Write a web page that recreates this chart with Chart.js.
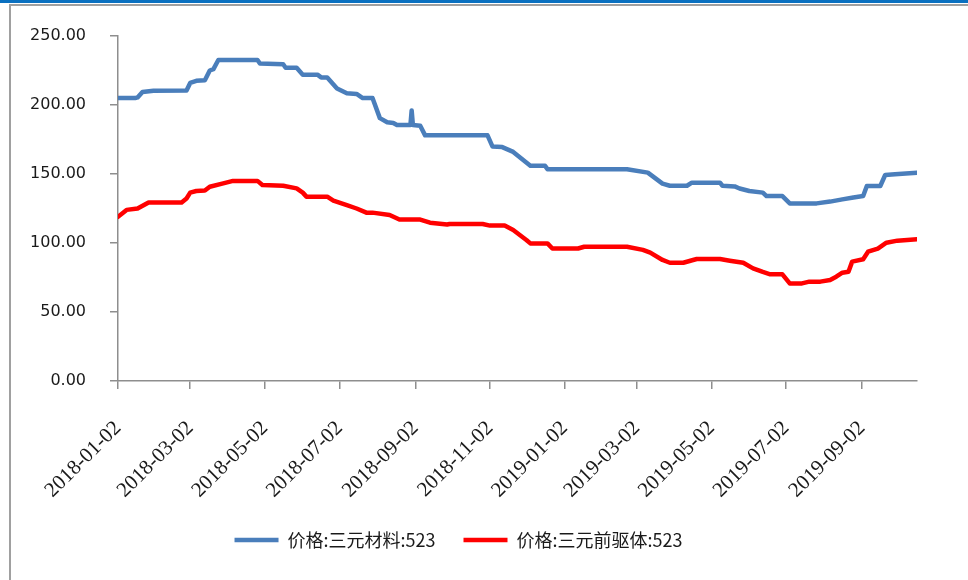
<!DOCTYPE html>
<html>
<head>
<meta charset="utf-8">
<script src="https://cdn.jsdelivr.net/npm/chart.js@4.4.0/dist/chart.umd.min.js"></script>
<style>
  html, body { margin: 0; padding: 0; background: #fff; }
  #wrap { position: relative; width: 968px; height: 580px; overflow: hidden; }
  #topbar { position: absolute; left: 0; top: 0; width: 968px; height: 3px; background: #0a70c0; }
  #frame { position: absolute; left: 9px; top: 4px; width: 959px; height: 576px;
           border-left: 2px solid #a0a0a0; border-top: 2px solid #a0a0a0; box-sizing: border-box; }
  canvas { position: absolute; left: 0; top: 0; }
</style>
</head>
<body>
<div id="wrap">
  <canvas id="myChart" width="968" height="580"></canvas>
  <div id="topbar"></div>
  <div id="frame"></div>
</div>
<script>
// 价格:三元材料:523
const blueDates = ['2018-01-02','2018-01-16','2018-01-18','2018-01-22','2018-01-31','2018-02-27','2018-03-02','2018-03-07','2018-03-14','2018-03-18','2018-03-21','2018-03-25','2018-04-26','2018-04-28','2018-05-17','2018-05-19','2018-05-28','2018-06-02','2018-06-14','2018-06-17','2018-06-22','2018-06-30','2018-07-08','2018-07-16','2018-07-21','2018-07-29','2018-08-04','2018-08-10','2018-08-15','2018-08-18','2018-08-29','2018-08-30','2018-08-31','2018-09-06','2018-09-10','2018-10-31','2018-11-04','2018-11-12','2018-11-21','2018-12-05','2018-12-17','2018-12-19','2019-02-22','2019-03-11','2019-03-23','2019-03-29','2019-04-12','2019-04-16','2019-05-09','2019-05-11','2019-05-21','2019-05-25','2019-06-02','2019-06-13','2019-06-16','2019-06-29','2019-07-05','2019-07-27','2019-08-07','2019-08-17','2019-08-26','2019-09-03','2019-09-06','2019-09-17','2019-09-21','2019-09-29','2019-10-17'];
const blueValues = [205,205,205.5,209.5,210.4,210.5,216,217.5,218,225,226,232.6,232.6,230,229.5,227,227,222,222,220,220,212,208.5,208,205,205,190.5,187.5,187,185.5,185.5,196,185.5,185,178,178,170,169.5,166,156,156,153.5,153.5,151,143,141.5,141.5,143.7,143.7,141.5,141,139.5,137.7,136.5,134,134,128.7,128.7,130,131.6,133,134,141.3,141.3,149.3,149.8,151];

// 价格:三元前驱体:523
const redDates = ['2018-01-02','2018-01-09','2018-01-18','2018-01-27','2018-02-23','2018-02-27','2018-03-02','2018-03-07','2018-03-14','2018-03-18','2018-03-29','2018-04-06','2018-04-26','2018-04-30','2018-05-17','2018-05-28','2018-06-02','2018-06-05','2018-06-22','2018-06-27','2018-07-08','2018-07-16','2018-07-24','2018-07-29','2018-08-12','2018-08-20','2018-09-06','2018-09-14','2018-09-28','2018-09-30','2018-10-27','2018-11-02','2018-11-14','2018-11-21','2018-12-02','2018-12-05','2018-12-19','2018-12-23','2019-01-13','2019-01-18','2019-02-22','2019-03-07','2019-03-13','2019-03-23','2019-03-29','2019-04-09','2019-04-17','2019-04-20','2019-05-09','2019-05-17','2019-05-28','2019-06-05','2019-06-13','2019-06-19','2019-06-29','2019-07-05','2019-07-15','2019-07-21','2019-07-30','2019-08-07','2019-08-12','2019-08-17','2019-08-22','2019-08-25','2019-09-03','2019-09-07','2019-09-15','2019-09-22','2019-10-01','2019-10-17'];
const redValues = [119,124,125,129.4,129.4,132.3,136.5,137.7,138,140.8,143.2,145,145,142,141.5,139.6,136.5,133.6,133.6,130.7,127.5,125,122,122,120.3,117,117,114.7,113.4,113.8,113.8,112.6,112.6,109.4,102,99.7,99.7,96,96,97.3,97.3,95,93,87.7,85.7,85.7,87.7,88.4,88.4,87.2,85.7,81.6,79,77.3,77.3,70.7,70.7,72,72,73.2,75.6,78.5,79.2,86.5,88.2,93.7,96,100.2,101.7,102.7];

const tickLabels = ['2018-01-02','2018-03-02','2018-05-02','2018-07-02','2018-09-02','2018-11-02','2019-01-02','2019-03-02','2019-05-02','2019-07-02','2019-09-02'];
const endDate = '2019-10-17';

// days since 2018-01-02, used as x on a linear axis
function dayNum(s) {
    const p = s.split('-');
    return (Date.UTC(+p[0], p[1] - 1, +p[2]) - Date.UTC(2018, 0, 2)) / 86400000;
}
function toPoints(dates, values) {
    return dates.map((d, i) => ({ x: dayNum(d), y: values[i] }));
}

const tickDays = tickLabels.map(dayNum);
const axisColor = '#8e8e8e';

new Chart(document.getElementById('myChart').getContext('2d'), {
    type: 'line',
    data: {
        datasets: [
            {
                label: '价格:三元材料:523',
                data: toPoints(blueDates, blueValues),
                borderColor: '#4a7ebb',
                backgroundColor: '#4a7ebb',
                borderWidth: 4.5,
                borderCapStyle: 'round',
                borderJoinStyle: 'round',
                pointRadius: 0
            },
            {
                label: '价格:三元前驱体:523',
                data: toPoints(redDates, redValues),
                borderColor: '#ff0000',
                backgroundColor: '#ff0000',
                borderWidth: 4.5,
                borderCapStyle: 'round',
                borderJoinStyle: 'round',
                pointRadius: 0
            }
        ]
    },
    options: {
        responsive: false,
        animation: false,
        layout: { padding: { top: 36, right: 51, bottom: 21, left: 0 } },
        plugins: {
            tooltip: { enabled: false },
            legend: {
                position: 'bottom',
                labels: {
                    usePointStyle: true,
                    pointStyle: 'line',
                    pointStyleWidth: 44,
                    padding: 28,
                    color: '#1a1a1a',
                    font: { family: "'Noto Sans CJK SC', sans-serif", size: 18 }
                }
            }
        },
        scales: {
            x: {
                type: 'linear',
                min: 0,
                max: dayNum(endDate),
                afterBuildTicks: s => { s.ticks = tickDays.map(v => ({ value: v })); },
                afterFit: s => { s.height = 122; },
                border: { color: axisColor, width: 1.5 },
                grid: { drawOnChartArea: false, drawTicks: true, tickLength: 8, color: axisColor, lineWidth: 1.5 },
                ticks: {
                    autoSkip: false,
                    minRotation: 45,
                    maxRotation: 45,
                    padding: 27,
                    color: '#1a1a1a',
                    font: { family: "'Liberation Serif', 'Times New Roman', serif", size: 21 },
                    callback: v => tickLabels[tickDays.indexOf(v)]
                }
            },
            y: {
                min: 0,
                max: 250,
                afterFit: s => { s.width = 118; },
                border: { color: axisColor, width: 1.5 },
                grid: { drawOnChartArea: false, drawTicks: true, tickLength: 8, color: axisColor, lineWidth: 1.5 },
                ticks: {
                    stepSize: 50,
                    padding: 24,
                    color: '#1a1a1a',
                    font: { family: "'DejaVu Sans', sans-serif", size: 16 },
                    callback: v => v.toFixed(2)
                }
            }
        }
    }
});
</script>
</body>
</html>
